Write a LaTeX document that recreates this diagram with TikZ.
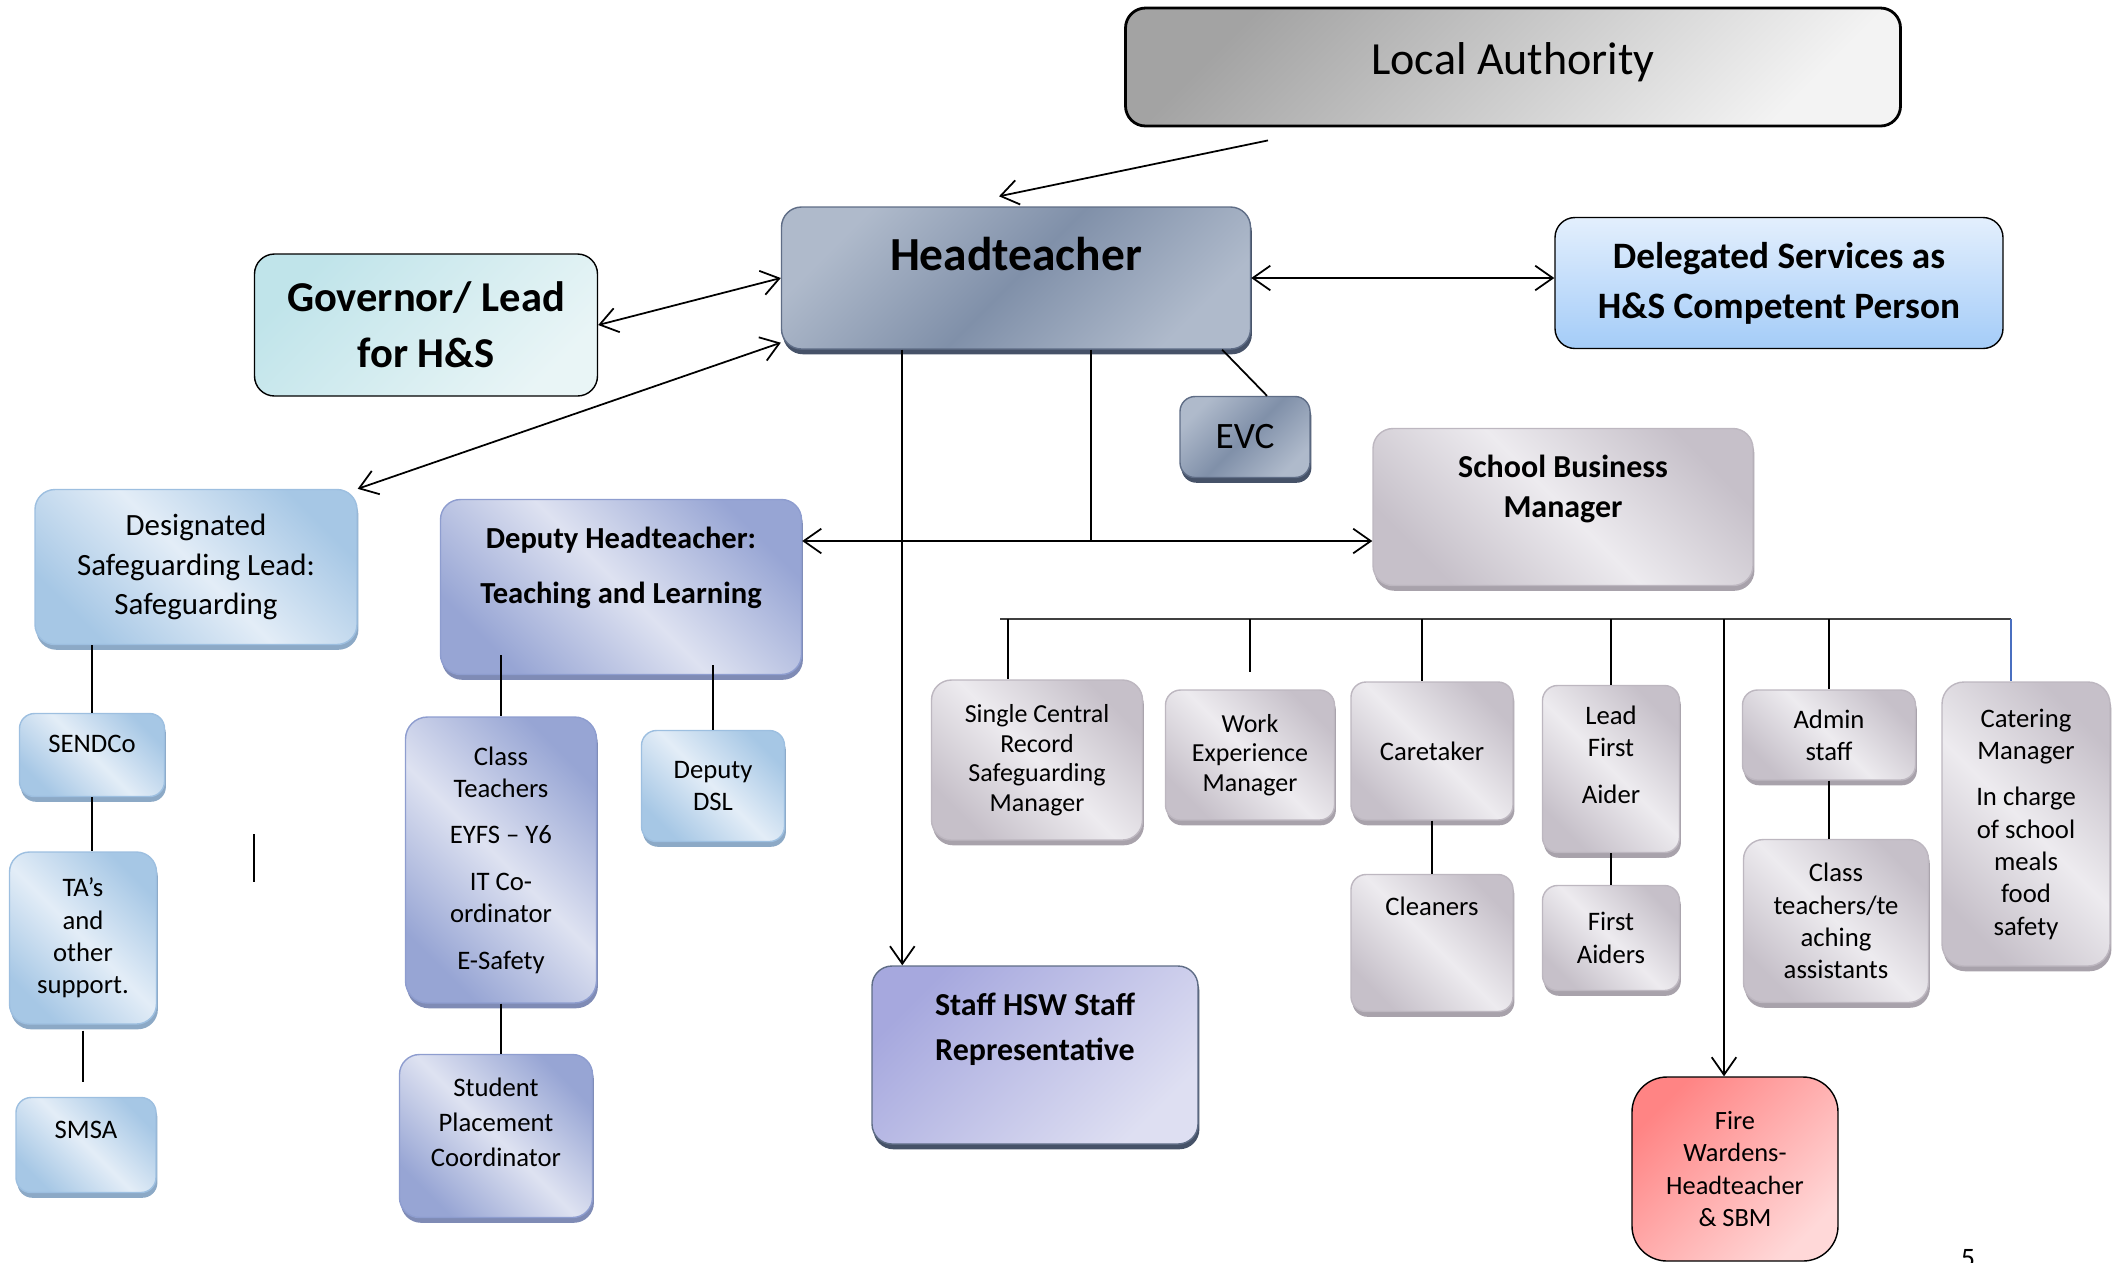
\documentclass[tikz,border=0pt]{standalone}
\usepackage{fontspec}
\setmainfont{Carlito}
\usetikzlibrary{arrows.meta,shadows}

\definecolor{htlight}{HTML}{AFBACB}
\definecolor{htdark}{HTML}{8090A9}
\definecolor{htline}{HTML}{5F6D86}
\definecolor{htshadow}{HTML}{465268}
\definecolor{greylight}{HTML}{EDEBEF}
\definecolor{greydark}{HTML}{C6C0C9}
\definecolor{greyline}{HTML}{BDB7C0}
\definecolor{greyshadow}{HTML}{A8A2AB}
\definecolor{bluelight}{HTML}{E3EDF7}
\definecolor{bluedark}{HTML}{A6C7E5}
\definecolor{blueline}{HTML}{9DBFE0}
\definecolor{blueshadow}{HTML}{8CA9C6}
\definecolor{lavlight}{HTML}{DEE2F1}
\definecolor{lavdark}{HTML}{97A5D4}
\definecolor{lavline}{HTML}{8E9DCF}
\definecolor{lavshadow}{HTML}{7F8BB5}
\definecolor{stafftop}{HTML}{A6A8DE}
\definecolor{staffbot}{HTML}{DEDFF2}
\definecolor{firetop}{HTML}{FF8484}
\definecolor{firebot}{HTML}{FFD8D8}
\definecolor{govtop}{HTML}{C0E4EA}
\definecolor{govbot}{HTML}{E9F5F6}
\definecolor{deltop}{HTML}{E3EFFD}
\definecolor{delbot}{HTML}{A4CCF8}
\definecolor{latop}{HTML}{A3A3A3}
\definecolor{labot}{HTML}{F3F3F3}
\definecolor{busgrey}{HTML}{404040}
\definecolor{catblue}{HTML}{4A6FC0}

\tikzset{
  box/.style={rounded corners=0.15cm, align=center, inner sep=1pt, line width=0.4pt},
  shbox/.style={box, drop shadow={shadow xshift=0.4pt, shadow yshift=-1.5pt, fill=#1, opacity=1}},
  hbox/.style={shbox=htshadow, draw=htline, top color=htlight, bottom color=htlight,
    middle color=htdark, shading angle=45},
  greybox/.style={shbox=greyshadow, draw=greyline, top color=greydark, bottom color=greydark,
    middle color=greylight, shading angle=-45, font=\fontsize{7.6}{9.2}\selectfont},
  bluebox/.style={shbox=blueshadow, draw=blueline, top color=bluedark, bottom color=bluedark,
    middle color=bluelight, shading angle=-45, font=\fontsize{7.6}{9.2}\selectfont},
  lavbox/.style={shbox=lavshadow, draw=lavline, top color=lavdark, bottom color=lavdark,
    middle color=lavlight, shading angle=-45, font=\fontsize{7.6}{9.2}\selectfont},
  staffbox/.style={shbox=htshadow, draw=htline, top color=stafftop, bottom color=staffbot,
    shading angle=45, rounded corners=0.2cm},
  labox/.style={box, draw=black, line width=0.8pt, top color=latop, bottom color=labot,
    shading angle=45, rounded corners=0.2cm},
  govbox/.style={box, draw=black, top color=govtop, bottom color=govbot, shading angle=45,
    rounded corners=0.2cm},
  delbox/.style={box, draw=black, top color=deltop, bottom color=delbot, rounded corners=0.2cm},
  firebox/.style={box, draw=black, top color=firetop, bottom color=firebot, shading angle=45,
    rounded corners=0.35cm, font=\fontsize{7.5}{9.2}\selectfont},
  link/.style={line width=0.5pt},
  arr/.style={link, -{Straight Barb[length=5pt,width=7pt]}},
  dbl/.style={link, {Straight Barb[length=5pt,width=7pt]}-{Straight Barb[length=5pt,width=7pt]}}
}

\begin{document}
\begin{tikzpicture}[x=0.1mm, y=-0.1mm]
\useasboundingbox (0,0) rectangle (2119,1262);

% top row
\node[labox, minimum width=7.75cm, minimum height=1.18cm, font=\fontsize{13.1}{16}\selectfont,
  text height=0.45cm, text depth=0.31cm] (la) at (1513,67) {Local Authority};
\node[hbox, minimum width=4.69cm, minimum height=1.42cm, rounded corners=0.2cm,
  font=\bfseries\fontsize{13.5}{16}\selectfont, text height=0.4cm, text depth=0.55cm] (head) at (1016,278) {Headteacher};
\node[govbox, minimum width=3.43cm, minimum height=1.42cm, font=\bfseries\fontsize{12.1}{16}\selectfont] (gov) at (426,325) {Governor/ Lead\\for H\&S};
\node[delbox, minimum width=4.48cm, minimum height=1.31cm, font=\bfseries\fontsize{10.6}{14.2}\selectfont] (del) at (1779,283) {Delegated Services as\\H\&S Competent Person};
\node[hbox, minimum width=1.30cm, minimum height=0.81cm, font=\fontsize{10.6}{13}\selectfont] (evc) at (1245,437) {EVC};

% second row
\node[greybox, minimum width=3.80cm, minimum height=1.57cm, rounded corners=0.2cm,
  font=\bfseries\fontsize{9.1}{11.2}\selectfont, text height=0.75cm, text depth=0.55cm] (sbm) at (1563,507) {School Business\\Manager};
\node[bluebox, minimum width=3.22cm, minimum height=1.55cm, rounded corners=0.2cm,
  font=\fontsize{8.8}{11.2}\selectfont] (dsl) at (196,567) {Designated\\Safeguarding Lead:\\Safeguarding};
\node[lavbox, minimum width=3.61cm, minimum height=1.75cm, rounded corners=0.2cm,
  font=\bfseries\fontsize{8.7}{10.6}\selectfont, text height=0.85cm, text depth=0.53cm] (dep) at (621,587) {Deputy Headteacher:\\[5pt]Teaching and Learning};

% safeguarding column
\node[bluebox, minimum width=1.45cm, minimum height=0.83cm, text height=0.3cm, text depth=0.35cm] (sendco) at (92,755) {SENDCo};
\node[bluebox, minimum width=1.47cm, minimum height=1.72cm, rounded corners=0.2cm] (tas) at (83,938) {TA’s\\and\\other\\support.};
\node[bluebox, minimum width=1.40cm, minimum height=0.95cm, text height=0.3cm, text depth=0.43cm] (smsa) at (86,1145) {SMSA};

% teaching column
\node[lavbox, minimum width=1.91cm, minimum height=2.86cm, rounded corners=0.22cm] (classt) at (501,860)
  {Class\\Teachers\\[4pt]EYFS – Y6\\[4pt]IT Co-\\ordinator\\[4pt]E-Safety};
\node[bluebox, minimum width=1.43cm, minimum height=1.11cm] (ddsl) at (713,786) {Deputy\\DSL};
\node[lavbox, minimum width=1.93cm, minimum height=1.63cm, rounded corners=0.2cm,
  font=\fontsize{7.6}{10}\selectfont, text height=0.9cm, text depth=0.29cm] (stud) at (496,1136) {Student\\Placement\\Coordinator};
\node[staffbox, minimum width=3.26cm, minimum height=1.78cm, font=\bfseries\fontsize{9.1}{12.7}\selectfont,
  text height=0.8cm, text depth=0.69cm] (staff) at (1035,1055) {Staff HSW Staff\\Representative};

% support staff row
\node[greybox, minimum width=2.11cm, minimum height=1.60cm, rounded corners=0.2cm,
  font=\fontsize{7.4}{8.4}\selectfont] (scr) at (1037,760) {Single Central\\Record\\Safeguarding\\Manager};
\node[greybox, minimum width=1.69cm, minimum height=1.30cm, font=\fontsize{7.4}{8.4}\selectfont] (wex) at (1250,755) {Work\\Experience\\Manager};
\node[greybox, minimum width=1.62cm, minimum height=1.38cm] (care) at (1432,751) {Caretaker};
\node[greybox, minimum width=1.62cm, minimum height=1.37cm, text height=0.3cm, text depth=0.86cm] (clean) at (1432,943) {Cleaners};
\node[greybox, minimum width=1.37cm, minimum height=1.67cm, text height=0.99cm, text depth=0.31cm] (lfa) at (1611,769) {Lead\\First\\[4pt]Aider};
\node[greybox, minimum width=1.37cm, minimum height=1.05cm] (fa) at (1611,938) {First\\Aiders};
\node[greybox, minimum width=1.73cm, minimum height=0.90cm] (admin) at (1829,735) {Admin\\staff};
\node[greybox, minimum width=1.85cm, minimum height=1.63cm, rounded corners=0.2cm] (cta) at (1836,921) {Class\\teachers/te\\aching\\assistants};
\node[greybox, minimum width=1.68cm, minimum height=2.84cm, rounded corners=0.22cm] (cat) at (2026,824)
  {Catering\\Manager\\[4pt]In charge\\of school\\meals\\food\\safety};
\node[firebox, minimum width=2.06cm, minimum height=1.84cm] (fire) at (1735,1169) {Fire\\Wardens-\\Headteacher\\\& SBM};

\node[anchor=base, font=\fontsize{8}{10}\selectfont] (pnum) at (1968,1267) {5};

% connectors from the top
\draw[arr] ([xshift=-2.45cm,yshift=-0.13cm]la.south) -- ([xshift=-0.17cm,yshift=0.1cm]head.north);
\draw[dbl] (gov.east) -- (head.west);
\draw[dbl] ([yshift=0.07cm]head.south west) -- (dsl.north east);
\draw[dbl] (head.east) -- (head.east -| del.west);
\draw[link] ([xshift=-0.29cm]head.south east) -- ([xshift=0.22cm]evc.north);

\coordinate (hsw) at ([xshift=0.31cm]staff.north west);
\draw[arr] (head.south -| hsw) -- (hsw);

\coordinate (hj) at (1091,541);
\draw[link] (head.south -| hj) -- (hj);
\draw[dbl] (dep.east |- hj) -- (sbm.west |- hj);

% bus to support staff
\coordinate (busl) at (1000,619);
\coordinate (scrtop) at ([xshift=-0.29cm]scr.north);
\coordinate (cttop) at ([xshift=-0.1cm]care.north);
\coordinate (firetop) at ([xshift=-0.11cm]fire.north);
\coordinate (cattop) at ([xshift=-0.15cm]cat.north);
\draw[link, busgrey] (busl) -- (busl -| cattop);
\draw[link] (scrtop |- busl) -- (scrtop);
\draw[link] (wex.north |- busl) -- ([yshift=0.17cm]wex.north);
\draw[link] (cttop |- busl) -- (cttop);
\draw[link] (lfa.north |- busl) -- (lfa.north);
\draw[arr] (firetop |- busl) -- (firetop);
\draw[link] (admin.north |- busl) -- (admin.north);
\draw[link, catblue] (cattop |- busl) -- (cattop);
\draw[link] (care.south) -- (clean.north);
\draw[link] (lfa.south) -- (fa.north);
\draw[link] (admin.south) -- (admin.south |- cta.north);

% left side
\draw[link] (dsl.south -| sendco) -- (sendco.north);
\draw[link] (sendco.south) -- (sendco.south |- tas.north);
\draw[link] ([yshift=-0.06cm]tas.south) -- +(0,51);
\coordinate (stray) at (254,834);
\draw[link] (stray) -- +(0,48);

\coordinate (depa) at ([yshift=0.2cm]dep.south);
\coordinate (depb) at ([yshift=0.1cm]dep.south);
\draw[link] (depa -| classt.north) -- (classt.north);
\draw[link] (depb -| ddsl.north) -- (ddsl.north);
\draw[link] (classt.south) -- (classt.south |- stud.north);
\end{tikzpicture}
\end{document}
